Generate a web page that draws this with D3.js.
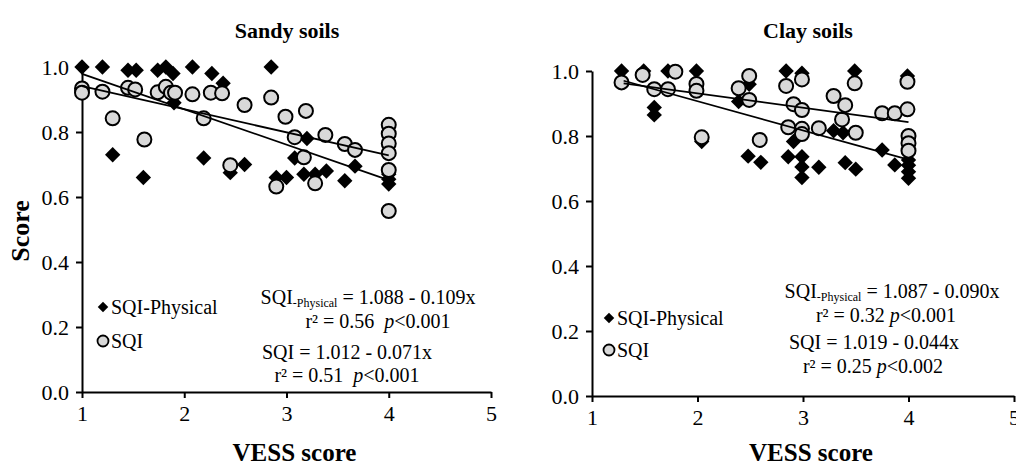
<!DOCTYPE html>
<html>
<head>
<meta charset="utf-8">
<script src="https://cdn.jsdelivr.net/npm/d3@7/dist/d3.min.js"></script>
<style>
  body { margin: 0; background: #fff; }
  text { font-family: "Liberation Serif", "Times New Roman", serif; fill: #000; }
</style>
</head>
<body>
<svg id="chart" width="1016" height="465"></svg>
<script>
// VESS score vs soil quality index
const sandyPhysical = [
  [1.0, 1.0], [1.2, 1.0], [1.45, 0.99], [1.53, 0.99], [1.74, 0.99], [1.82, 1.0],
  [1.89, 0.98], [2.08, 1.0], [2.27, 0.98], [2.38, 0.95], [1.9, 0.89], [1.3, 0.73],
  [1.6, 0.66], [2.19, 0.72], [2.45, 0.675], [2.59, 0.70], [2.85, 1.0], [3.08, 0.72],
  [3.2, 0.78], [2.9, 0.66], [3.0, 0.66], [3.17, 0.67], [3.28, 0.67], [3.39, 0.68],
  [3.57, 0.65], [3.67, 0.695], [4, 0.67], [4, 0.655], [4, 0.64]
];
const sandySQI = [
  [1.0, 0.934], [1.0, 0.921], [1.2, 0.924], [1.3, 0.842], [1.45, 0.936], [1.52, 0.931],
  [1.61, 0.777], [1.74, 0.922], [1.82, 0.939], [1.87, 0.921], [1.91, 0.921], [2.08, 0.916],
  [2.26, 0.921], [2.37, 0.919], [2.59, 0.883], [2.19, 0.842], [2.45, 0.698], [2.85, 0.906],
  [2.99, 0.847], [3.19, 0.865], [3.08, 0.784], [3.38, 0.791], [3.57, 0.763], [3.67, 0.745],
  [3.17, 0.722], [2.9, 0.632], [3.28, 0.642], [4, 0.822], [4, 0.795], [4, 0.765],
  [4, 0.735], [4, 0.683], [4, 0.557]
];
const clayPhysical = [
  [1.28, 1.0], [1.49, 1.0], [1.72, 1.0], [1.99, 1.0], [1.59, 0.888], [1.59, 0.865],
  [2.04, 0.783], [2.48, 0.738], [2.6, 0.719], [2.39, 0.906], [2.49, 0.959], [2.84, 1.0],
  [2.99, 0.993], [3.49, 1.0], [3.99, 0.985], [2.91, 0.783], [2.86, 0.736], [2.99, 0.736],
  [2.99, 0.705], [2.99, 0.672], [3.15, 0.704], [3.29, 0.816], [3.38, 0.81], [3.4, 0.718],
  [3.5, 0.698], [3.75, 0.757], [3.87, 0.711], [4, 0.726], [4, 0.71], [4, 0.69], [4, 0.67]
];
const claySQI = [
  [1.28, 0.965], [1.48, 0.988], [1.59, 0.944], [1.72, 0.944], [1.79, 0.998], [1.99, 0.96],
  [1.99, 0.939], [2.04, 0.796], [2.39, 0.947], [2.49, 0.985], [2.49, 0.911], [2.59, 0.788],
  [2.84, 0.954], [2.99, 0.974], [3.49, 0.962], [3.99, 0.967], [2.91, 0.898], [2.99, 0.88],
  [3.29, 0.923], [3.4, 0.895], [3.37, 0.851], [2.86, 0.827], [2.99, 0.822], [2.99, 0.806],
  [3.15, 0.824], [3.5, 0.81], [3.75, 0.87], [3.87, 0.87], [3.99, 0.882], [4, 0.8],
  [4, 0.778], [4, 0.755]
];

// regression: [intercept, slope]
const sandyFitPhysical = [1.088, -0.109];
const sandyFitSQI = [1.012, -0.071];
const clayFitPhysical = [1.087, -0.090];
const clayFitSQI = [1.019, -0.044];
const sandyFitRange = [1, 4];
const clayFitRange = [1.3, 4];

const xTicks = [1, 2, 3, 4, 5];
const yTicks = [0, 0.2, 0.4, 0.6, 0.8, 1.0];

const svg = d3.select("#chart");

const panels = [
  {
    title: "Sandy soils", physical: sandyPhysical, sqi: sandySQI,
    fitP: sandyFitPhysical, fitS: sandyFitSQI, range: sandyFitRange,
    x: [82, 491], y: [392, 67], titleX: 287, showYLabel: true,
    legend: [103, 307, 341],
    eq: {
      lines: [297, 321, 352, 375],
      p: ["1.088 - 0.109x", "0.56  ", "0.001"],
      s: ["1.012 - 0.071x", "0.51  ", "0.001"],
      xs: [368, 378, 347, 347]
    }
  },
  {
    title: "Clay soils", physical: clayPhysical, sqi: claySQI,
    fitP: clayFitPhysical, fitS: clayFitSQI, range: clayFitRange,
    x: [592, 1014], y: [396, 71], titleX: 808, showYLabel: false,
    legend: [609, 318, 350],
    eq: {
      lines: [291, 315, 342, 366],
      p: ["1.087 - 0.090x", "0.32 ", "0.001"],
      s: ["1.019 - 0.044x", "0.25 ", "0.002"],
      xs: [892, 886, 874, 873]
    }
  }
];

const diamond = d3.symbol().type(d3.symbolSquare).size(118);

panels.forEach(p => {
  const x = d3.scaleLinear().domain([1, 5]).range(p.x);
  const y = d3.scaleLinear().domain([0, 1]).range(p.y);
  const g = svg.append("g");

  // axes
  const xAxis = g.append("g")
    .attr("transform", `translate(0,${p.y[0]})`)
    .call(d3.axisBottom(x).tickValues(xTicks).tickFormat(d3.format("d"))
      .tickSize(6).tickSizeOuter(0).tickPadding(7));
  const yAxis = g.append("g")
    .attr("transform", `translate(${p.x[0]},0)`)
    .call(d3.axisLeft(y).tickValues(yTicks).tickFormat(d3.format(".1f"))
      .tickSize(6).tickSizeOuter(0).tickPadding(7));
  [xAxis, yAxis].forEach(a => {
    a.attr("font-size", null).attr("font-family", null);
    a.select(".domain").attr("stroke", "#000").attr("stroke-width", 2);
    a.selectAll(".tick line").attr("stroke", "#000").attr("stroke-width", 2);
    a.selectAll(".tick text")
      .style("font-family", "Liberation Serif")
      .style("font-size", "22px").attr("fill", "#000");
  });

  // markers
  g.append("g").selectAll("path")
    .data(p.physical)
    .join("path")
    .attr("d", diamond)
    .attr("transform", d => `translate(${x(d[0])},${y(d[1])}) rotate(45)`)
    .attr("fill", "#000");

  g.append("g").selectAll("circle")
    .data(p.sqi)
    .join("circle")
    .attr("cx", d => x(d[0]))
    .attr("cy", d => y(d[1]))
    .attr("r", 7)
    .attr("fill", "#d9d9d9")
    .attr("stroke", "#000")
    .attr("stroke-width", 2);

  // fitted lines
  const line = d3.line().x(d => x(d[0])).y(d => y(d[1]));
  [p.fitP, p.fitS].forEach(f => {
    g.append("path")
      .attr("d", line(p.range.map(v => [v, f[0] + f[1] * v])))
      .attr("fill", "none")
      .attr("stroke", "#000")
      .attr("stroke-width", 1.8);
  });

  // titles
  g.append("text").attr("x", p.titleX).attr("y", 38)
    .attr("text-anchor", "middle").style("font-size", "22px").style("font-weight", "bold")
    .text(p.title);
  g.append("text").attr("x", (p.x[0] + p.x[1]) / 2 + 8).attr("y", 461)
    .attr("text-anchor", "middle").style("font-size", "25px").style("font-weight", "bold")
    .text("VESS score");
  if (p.showYLabel) {
    g.append("text").attr("transform", "translate(29,231) rotate(-90)")
      .attr("text-anchor", "middle").style("font-size", "26px").style("font-weight", "bold")
      .text("Score");
  }

  // legend
  const [lx, ly1, ly2] = p.legend;
  g.append("path").attr("d", d3.symbol().type(d3.symbolSquare).size(55))
    .attr("transform", `translate(${lx},${ly1}) rotate(45)`).attr("fill", "#000");
  g.append("text").attr("x", lx + 8).attr("y", ly1 + 7).style("font-size", "20px").text("SQI-Physical");
  g.append("circle").attr("cx", lx).attr("cy", ly2).attr("r", 5.5)
    .attr("fill", "#d9d9d9").attr("stroke", "#000").attr("stroke-width", 1.8);
  g.append("text").attr("x", lx + 8).attr("y", ly2 + 7).style("font-size", "20px").text("SQI");

  // equations
  const e = p.eq;
  const t1 = g.append("text").attr("x", e.xs[0]).attr("y", e.lines[0] + 7)
    .attr("text-anchor", "middle").style("font-size", "20px");
  t1.append("tspan").text("SQI");
  t1.append("tspan").attr("dy", 3).style("font-size", "12px").text("-Physical");
  t1.append("tspan").attr("dy", -3).text(" = " + e.p[0]);

  const t2 = g.append("text").attr("x", e.xs[1]).attr("y", e.lines[1] + 7)
    .attr("text-anchor", "middle").style("font-size", "20px").attr("xml:space", "preserve");
  t2.append("tspan").text("r² = " + e.p[1]);
  t2.append("tspan").style("font-style", "italic").text("p");
  t2.append("tspan").text("<" + e.p[2]);

  g.append("text").attr("x", e.xs[2]).attr("y", e.lines[2] + 7)
    .attr("text-anchor", "middle").style("font-size", "20px")
    .text("SQI = " + e.s[0]);

  const t4 = g.append("text").attr("x", e.xs[3]).attr("y", e.lines[3] + 7)
    .attr("text-anchor", "middle").style("font-size", "20px").attr("xml:space", "preserve");
  t4.append("tspan").text("r² = " + e.s[1]);
  t4.append("tspan").style("font-style", "italic").text("p");
  t4.append("tspan").text("<" + e.s[2]);
});
</script>
</body>
</html>
